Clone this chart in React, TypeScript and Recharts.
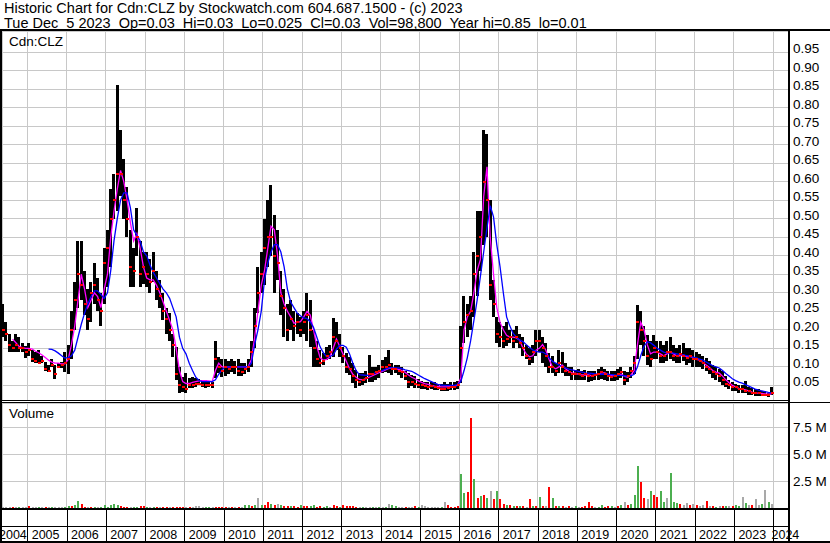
import React from "react";
import {
  ComposedChart,
  Bar,
  Line,
  Scatter,
  XAxis,
  YAxis,
  CartesianGrid,
  Cell,
} from "recharts";

// monthly readings, May 2004 .. Dec 2023 (one value per month)
const START_YEAR = 2004;
const START_MONTH = 4; // May

const highs = [
  0.27, 0.22, 0.19, 0.17, 0.19, 0.18, 0.165, 0.155,
  0.165, 0.145, 0.14, 0.145, 0.13, 0.113, 0.105, 0.12, 0.105, 0.11, 0.113, 0.14,
  0.16, 0.25, 0.33, 0.44, 0.44, 0.36, 0.31, 0.33, 0.38, 0.34, 0.3, 0.42,
  0.47, 0.58, 0.62, 0.86, 0.74, 0.66, 0.585, 0.47, 0.42, 0.53, 0.44, 0.41,
  0.41, 0.39, 0.41, 0.36, 0.335, 0.3, 0.26, 0.245, 0.19, 0.154, 0.1, 0.072,
  0.083, 0.07, 0.072, 0.07, 0.068, 0.065, 0.065, 0.062, 0.06, 0.17, 0.127, 0.12,
  0.12, 0.115, 0.12, 0.115, 0.12, 0.11, 0.11, 0.12, 0.17, 0.26, 0.37, 0.41,
  0.5, 0.55, 0.59, 0.51, 0.47, 0.36, 0.31, 0.27, 0.28, 0.25, 0.245, 0.235,
  0.25, 0.3, 0.28, 0.2, 0.17, 0.146, 0.137, 0.154, 0.16, 0.232, 0.22, 0.19,
  0.154, 0.137, 0.127, 0.11, 0.092, 0.083, 0.083, 0.09, 0.132, 0.1, 0.1, 0.105,
  0.118, 0.127, 0.146, 0.11, 0.105, 0.105, 0.1, 0.09, 0.083, 0.078, 0.075, 0.068,
  0.062, 0.06, 0.058, 0.06, 0.058, 0.055, 0.055, 0.058, 0.055, 0.06, 0.058, 0.062,
  0.21, 0.29, 0.27, 0.29, 0.41, 0.52, 0.52, 0.74, 0.73, 0.55, 0.335, 0.235,
  0.22, 0.21, 0.22, 0.2, 0.2, 0.21, 0.19, 0.18, 0.16, 0.15, 0.16, 0.2,
  0.2, 0.18, 0.165, 0.137, 0.13, 0.11, 0.146, 0.14, 0.11, 0.1, 0.1, 0.092,
  0.095, 0.09, 0.092, 0.09, 0.088, 0.09, 0.095, 0.1, 0.095, 0.09, 0.088, 0.09,
  0.095, 0.1, 0.09, 0.085, 0.1, 0.13, 0.267, 0.25, 0.21, 0.185, 0.17, 0.185,
  0.17, 0.17, 0.16, 0.17, 0.18, 0.16, 0.15, 0.16, 0.165, 0.15, 0.15, 0.145,
  0.14, 0.135, 0.13, 0.125, 0.115, 0.105, 0.1, 0.095, 0.09, 0.075, 0.065, 0.06,
  0.055, 0.052, 0.05, 0.062, 0.045, 0.042, 0.04, 0.04, 0.035, 0.035, 0.03, 0.045,
];

const lows = [
  0.18, 0.17, 0.14, 0.14, 0.14, 0.14, 0.14, 0.125,
  0.13, 0.113, 0.11, 0.11, 0.11, 0.09, 0.087, 0.1, 0.067, 0.097, 0.097, 0.087,
  0.08, 0.12, 0.2, 0.26, 0.28, 0.24, 0.2, 0.22, 0.27, 0.25, 0.21, 0.27,
  0.315, 0.37, 0.5, 0.52, 0.56, 0.5, 0.45, 0.315, 0.315, 0.4, 0.315, 0.325,
  0.315, 0.3, 0.33, 0.28, 0.26, 0.226, 0.19, 0.17, 0.127, 0.065, 0.03, 0.032,
  0.03, 0.043, 0.043, 0.045, 0.05, 0.045, 0.043, 0.045, 0.043, 0.07, 0.083, 0.072,
  0.075, 0.08, 0.085, 0.08, 0.075, 0.075, 0.08, 0.085, 0.1, 0.15, 0.245, 0.3,
  0.32, 0.37, 0.4, 0.3, 0.335, 0.24, 0.18, 0.17, 0.2, 0.17, 0.19, 0.18,
  0.19, 0.17, 0.154, 0.1, 0.1, 0.1, 0.105, 0.118, 0.12, 0.127, 0.146, 0.127,
  0.11, 0.083, 0.078, 0.056, 0.043, 0.047, 0.052, 0.056, 0.06, 0.06, 0.065, 0.07,
  0.083, 0.086, 0.083, 0.078, 0.083, 0.078, 0.07, 0.065, 0.043, 0.047, 0.043, 0.043,
  0.04, 0.04, 0.038, 0.04, 0.038, 0.037, 0.035, 0.035, 0.035, 0.038, 0.037, 0.04,
  0.056, 0.164, 0.18, 0.2, 0.235, 0.29, 0.36, 0.43, 0.45, 0.28, 0.235, 0.164,
  0.154, 0.15, 0.155, 0.165, 0.15, 0.165, 0.15, 0.13, 0.12, 0.105, 0.11, 0.13,
  0.14, 0.11, 0.1, 0.083, 0.083, 0.075, 0.083, 0.083, 0.075, 0.075, 0.065, 0.065,
  0.065, 0.065, 0.065, 0.06, 0.062, 0.065, 0.065, 0.068, 0.065, 0.062, 0.062, 0.062,
  0.065, 0.07, 0.05, 0.06, 0.07, 0.08, 0.12, 0.16, 0.13, 0.105, 0.1, 0.12,
  0.12, 0.11, 0.11, 0.115, 0.12, 0.115, 0.11, 0.11, 0.115, 0.105, 0.11, 0.1,
  0.1, 0.1, 0.095, 0.09, 0.08, 0.07, 0.065, 0.06, 0.05, 0.045, 0.04, 0.035,
  0.035, 0.03, 0.03, 0.03, 0.025, 0.025, 0.022, 0.02, 0.02, 0.02, 0.018, 0.025,
];

const closes = [
  0.2, 0.19, 0.16, 0.15, 0.16, 0.15, 0.15, 0.14,
  0.145, 0.12, 0.115, 0.11, 0.115, 0.095, 0.09, 0.105, 0.08, 0.1, 0.105, 0.11,
  0.12, 0.2, 0.28, 0.35, 0.32, 0.27, 0.23, 0.3, 0.32, 0.28, 0.25, 0.38,
  0.42, 0.5, 0.55, 0.62, 0.62, 0.55, 0.5, 0.37, 0.36, 0.45, 0.35, 0.37,
  0.35, 0.33, 0.36, 0.31, 0.29, 0.25, 0.23, 0.2, 0.16, 0.08, 0.05, 0.045,
  0.04, 0.05, 0.05, 0.055, 0.055, 0.05, 0.05, 0.05, 0.05, 0.12, 0.1, 0.09,
  0.1, 0.095, 0.1, 0.1, 0.09, 0.085, 0.095, 0.1, 0.14, 0.21, 0.3, 0.35,
  0.42, 0.45, 0.45, 0.4, 0.38, 0.29, 0.26, 0.2, 0.23, 0.21, 0.22, 0.2,
  0.22, 0.24, 0.2, 0.15, 0.12, 0.11, 0.115, 0.13, 0.14, 0.18, 0.17, 0.15,
  0.13, 0.1, 0.095, 0.075, 0.065, 0.06, 0.065, 0.07, 0.08, 0.08, 0.085, 0.09,
  0.1, 0.1, 0.105, 0.095, 0.095, 0.09, 0.085, 0.075, 0.06, 0.06, 0.055, 0.05,
  0.05, 0.048, 0.045, 0.048, 0.045, 0.042, 0.04, 0.04, 0.042, 0.045, 0.045, 0.05,
  0.15, 0.22, 0.24, 0.25, 0.35, 0.4, 0.45, 0.6, 0.55, 0.32, 0.27, 0.19,
  0.18, 0.17, 0.175, 0.18, 0.17, 0.18, 0.165, 0.15, 0.13, 0.12, 0.14, 0.17,
  0.17, 0.15, 0.13, 0.1, 0.1, 0.09, 0.11, 0.1, 0.09, 0.085, 0.08, 0.08,
  0.08, 0.075, 0.08, 0.075, 0.075, 0.078, 0.08, 0.085, 0.08, 0.075, 0.072, 0.075,
  0.08, 0.085, 0.065, 0.075, 0.09, 0.11, 0.22, 0.2, 0.17, 0.13, 0.12, 0.15,
  0.14, 0.13, 0.13, 0.14, 0.14, 0.13, 0.13, 0.135, 0.13, 0.125, 0.13, 0.12,
  0.12, 0.115, 0.11, 0.1, 0.095, 0.085, 0.08, 0.075, 0.065, 0.055, 0.05, 0.045,
  0.045, 0.04, 0.04, 0.035, 0.035, 0.03, 0.03, 0.03, 0.025, 0.025, 0.025, 0.03,
];

// short moving average (magenta)
const maShort = [
  null, null, null, 0.175, 0.165, 0.155, 0.152, 0.15,
  0.15, 0.148, 0.142, 0.138, 0.132, 0.125, 0.118, 0.113, 0.11, 0.11, 0.108, 0.108,
  0.12, 0.16, 0.21, 0.28, 0.35, 0.31, 0.26, 0.28, 0.3, 0.29, 0.26, 0.31,
  0.35, 0.45, 0.52, 0.58, 0.63, 0.6, 0.55, 0.49, 0.44, 0.46, 0.42, 0.37,
  0.34, 0.335, 0.335, 0.32, 0.3, 0.275, 0.25, 0.225, 0.2, 0.15, 0.09, 0.06,
  0.055, 0.055, 0.058, 0.06, 0.062, 0.063, 0.063, 0.062, 0.06, 0.09, 0.11, 0.1,
  0.1, 0.1, 0.1, 0.1, 0.1, 0.1, 0.1, 0.1, 0.12, 0.18, 0.25, 0.32,
  0.36, 0.42, 0.48, 0.47, 0.4, 0.3, 0.27, 0.25, 0.235, 0.218, 0.22, 0.222,
  0.235, 0.25, 0.24, 0.2, 0.155, 0.125, 0.118, 0.12, 0.127, 0.15, 0.175, 0.155,
  0.135, 0.115, 0.095, 0.08, 0.072, 0.066, 0.065, 0.068, 0.072, 0.076, 0.08, 0.084,
  0.088, 0.092, 0.096, 0.097, 0.095, 0.093, 0.09, 0.085, 0.078, 0.072, 0.068, 0.062,
  0.058, 0.055, 0.053, 0.05, 0.048, 0.047, 0.046, 0.046, 0.046, 0.046, 0.048, 0.05,
  0.07, 0.2, 0.235, 0.25, 0.3, 0.36, 0.39, 0.56, 0.64, 0.45, 0.35, 0.26,
  0.22, 0.2, 0.185, 0.18, 0.18, 0.178, 0.172, 0.15, 0.135, 0.127, 0.13, 0.145,
  0.15, 0.16, 0.145, 0.12, 0.1, 0.095, 0.1, 0.105, 0.095, 0.088, 0.083, 0.083,
  0.08, 0.078, 0.078, 0.078, 0.076, 0.078, 0.08, 0.084, 0.084, 0.08, 0.077, 0.076,
  0.077, 0.08, 0.075, 0.072, 0.078, 0.09, 0.16, 0.22, 0.2, 0.16, 0.135, 0.14,
  0.14, 0.135, 0.13, 0.135, 0.14, 0.135, 0.13, 0.13, 0.132, 0.128, 0.128, 0.125,
  0.12, 0.118, 0.112, 0.105, 0.098, 0.09, 0.086, 0.083, 0.075, 0.065, 0.057, 0.05,
  0.046, 0.042, 0.04, 0.038, 0.035, 0.032, 0.03, 0.029, 0.028, 0.027, 0.026, 0.027,
];

// long moving average (blue)
const maLong = [
  null, null, null, null, null, null, null, null,
  null, null, null, null, null, null, 0.148, 0.147, 0.143, 0.137, 0.13, 0.124,
  0.125, 0.13, 0.145, 0.18, 0.215, 0.245, 0.27, 0.29, 0.305, 0.305, 0.295, 0.285,
  0.3, 0.36, 0.44, 0.5, 0.55, 0.57, 0.57, 0.53, 0.47, 0.455, 0.44, 0.41,
  0.4, 0.375, 0.355, 0.34, 0.325, 0.31, 0.3, 0.285, 0.26, 0.235, 0.18, 0.15,
  0.135, 0.11, 0.09, 0.072, 0.063, 0.06, 0.06, 0.06, 0.06, 0.065, 0.08, 0.092,
  0.1, 0.1, 0.1, 0.1, 0.1, 0.1, 0.1, 0.1, 0.11, 0.16, 0.2, 0.25,
  0.334, 0.38, 0.41, 0.43, 0.43, 0.41, 0.37, 0.31, 0.275, 0.26, 0.245, 0.238,
  0.232, 0.23, 0.222, 0.206, 0.18, 0.154, 0.138, 0.127, 0.128, 0.132, 0.148, 0.158,
  0.158, 0.153, 0.135, 0.11, 0.09, 0.079, 0.078, 0.077, 0.078, 0.08, 0.085, 0.088,
  0.09, 0.094, 0.097, 0.097, 0.097, 0.097, 0.095, 0.092, 0.09, 0.088, 0.083, 0.078,
  0.073, 0.068, 0.064, 0.06, 0.056, 0.053, 0.051, 0.05, 0.05, 0.05, 0.05, 0.052,
  0.06, 0.09, 0.125, 0.17, 0.225, 0.28, 0.345, 0.41, 0.475, 0.535, 0.505, 0.43,
  0.37, 0.3, 0.235, 0.21, 0.19, 0.18, 0.172, 0.168, 0.16, 0.152, 0.146, 0.142,
  0.14, 0.14, 0.135, 0.125, 0.115, 0.11, 0.105, 0.1, 0.097, 0.094, 0.092, 0.09,
  0.088, 0.086, 0.084, 0.083, 0.082, 0.081, 0.08, 0.08, 0.08, 0.08, 0.079, 0.078,
  0.077, 0.077, 0.076, 0.075, 0.076, 0.08, 0.1, 0.13, 0.155, 0.168, 0.165, 0.158,
  0.15, 0.145, 0.14, 0.138, 0.138, 0.137, 0.135, 0.133, 0.132, 0.13, 0.128, 0.126,
  0.124, 0.121, 0.118, 0.113, 0.108, 0.103, 0.1, 0.097, 0.09, 0.082, 0.075, 0.068,
  0.063, 0.059, 0.056, 0.052, 0.048, 0.044, 0.04, 0.037, 0.035, 0.033, 0.031, 0.03,
];

// volume in millions of shares
const volumes = [
  0.04, 0.05, 0.03, 0.05, 0.03, 0.02, 0.03, 0.04,
  0.15, 0.02, 0.03, 0.05, 0.02, 0.02, 0.03, 0.05, 0.03, 0.02, 0.05, 0.06,
  0.2, 0.2, 0.25, 0.65, 0.35, 0.1, 0.05, 0.1, 0.05, 0.08, 0.1, 0.25,
  0.1, 0.25, 0.35, 0.3, 0.15, 0.1, 0.1, 0.05, 0.1, 0.1, 0.2, 0.15,
  0.05, 0.04, 0.06, 0.05, 0.04, 0.06, 0.05, 0.04, 0.06, 0.08, 0.06, 0.1,
  0.08, 0.1, 0.05, 0.2, 0.15, 0.04, 0.1, 0.06, 0.04, 0.1, 0.05, 0.06,
  0.05, 0.04, 0.05, 0.03, 0.06, 0.04, 0.3, 0.25, 0.2, 0.25, 0.9, 0.3,
  0.3, 0.6, 0.35, 0.3, 0.35, 0.3, 0.2, 0.15, 0.2, 0.15, 0.1, 0.25,
  0.15, 0.2, 0.15, 0.3, 0.1, 0.15, 0.1, 0.15, 0.1, 0.3, 0.2, 0.1,
  0.25, 0.2, 0.15, 0.15, 0.08, 0.06, 0.08, 0.05, 0.1, 0.08, 0.06, 0.1,
  0.05, 0.1, 0.4, 0.25, 0.15, 0.1, 0.05, 0.08, 0.05, 0.05, 0.2, 0.1,
  0.25, 0.2, 0.05, 0.05, 0.05, 0.1, 0.05, 0.55, 0.25, 0.05, 0.1, 0.2,
  3.2, 1.4, 1.45, 8.4, 2.75, 0.9, 1.1, 1.2, 0.9, 1.6, 0.8, 1.55,
  0.8, 0.4, 0.3, 0.25, 0.2, 0.15, 0.2, 0.15, 0.1, 0.8, 0.2, 0.15,
  1.05, 0.2, 0.15, 1.95, 0.95, 0.15, 0.2, 0.15, 0.1, 0.15, 0.1, 0.2,
  0.1, 0.1, 0.15, 0.55, 0.2, 0.1, 0.1, 0.3, 0.1, 0.2, 0.15, 0.1,
  0.2, 0.25, 0.55, 0.3, 0.4, 1.2, 3.9, 2.4, 0.9, 0.8, 1.6, 1.2,
  1.05, 1.6, 0.6, 0.95, 3.3, 0.6, 0.5, 0.4, 0.3, 0.45, 0.3, 0.35,
  0.3, 0.2, 0.25, 0.7, 0.2, 0.15, 0.1, 0.15, 0.15, 0.2, 0.15, 0.2,
  0.25, 0.2, 1.05, 0.5, 0.3, 0.25, 0.8, 0.3, 0.4, 1.7, 0.6, 0.4,
];

// g = up, r = down, n = unchanged (one letter per month, one string per year)
const volumeDirs = [
  "nnnrngnn",
  "rnngnrngnnng",
  "grggrrnrgngg",
  "ggggrrrnggrr",
  "gngrnrrnrrrr",
  "nrnnnnggnrrr",
  "rnrnrnggrgng",
  "rrgrngrrgrrg",
  "rrggrrggnrrg",
  "rrrrrngnngng",
  "ngnggnnrnnrg",
  "nnnnnngnrrrr",
  "ggrrgrgrgnrg",
  "rrgrgrgrnrgr",
  "grnrgrgrnrng",
  "nrrrrnggrrgn",
  "rgnrgggrrngr",
  "rggngggrnnrn",
  "rnnrnrgnrgnr",
  "ggngnrnngngn",
].join("");

const yearTicks = [
  2005, 2006, 2007, 2008, 2009, 2010, 2011, 2012, 2013, 2014,
  2015, 2016, 2017, 2018, 2019, 2020, 2021, 2022, 2023, 2024,
];
const yearLabels = [2004, ...yearTicks];
const priceTicks = [
  0.05, 0.1, 0.15, 0.2, 0.25, 0.3, 0.35, 0.4, 0.45, 0.5,
  0.55, 0.6, 0.65, 0.7, 0.75, 0.8, 0.85, 0.9, 0.95,
];
const volumeTicks = [2.5, 5, 7.5];

const X_MIN = 2004.3556;
const X_MAX = 2024.376;
const PLOT_L = 2;
const PLOT_R = 788;
const FONT = '"Liberation Sans", Arial, sans-serif';
const DIR_COLOR: Record<string, string> = {
  g: "#4caf50",
  r: "#ff0000",
  n: "#a9a9a9",
};

const rows = highs.map((hi, i) => ({
  t: START_YEAR + (START_MONTH + i + 0.5) / 12,
  hi,
  lo: lows[i],
  cl: closes[i],
  ma1: maShort[i],
  ma2: maLong[i],
  vol: volumes[i],
  dir: volumeDirs[i],
}));

const xOf = (t: number) =>
  PLOT_L + ((t - X_MIN) / (X_MAX - X_MIN)) * (PLOT_R - PLOT_L);

const PriceTick = (p: any) => (
  <text x={p.x} y={p.y + 1} fontSize={13.5} fontFamily={FONT} fill="#000" textAnchor="start">
    {p.payload.value.toFixed(2)}
  </text>
);

const VolumeTick = (p: any) => (
  <text x={p.x} y={p.y + 4.5} fontSize={13.5} fontFamily={FONT} fill="#000" textAnchor="start">
    {p.payload.value.toFixed(1) + " M"}
  </text>
);

const CloseMark = (p: any) => (
  <rect x={Math.round(p.cx) - 1} y={Math.round(p.cy) - 1} width={3} height={2} fill="#ff0000" />
);

export default function App() {
  return (
    <div
      style={{
        position: "absolute",
        left: 0,
        top: 0,
        width: 830,
        height: 543,
        background: "#fff",
        overflow: "hidden",
        fontFamily: FONT,
      }}
    >
      <style>{`.recharts-cartesian-grid line{shape-rendering:crispEdges}
.recharts-bar-rectangle path{shape-rendering:crispEdges}`}</style>

      <div style={{ position: "absolute", left: 0, top: 31 }}>
        <ComposedChart
          width={830}
          height={370}
          data={rows}
          margin={{ top: 0, right: 0, bottom: 0, left: PLOT_L }}
        >
          <CartesianGrid stroke="#c8c8c8" />
          <XAxis
            type="number"
            dataKey="t"
            domain={[X_MIN, X_MAX]}
            ticks={yearTicks}
            allowDataOverflow
            hide
          />
          <YAxis
            orientation="right"
            width={42}
            domain={[0.0078, 1.0068]}
            ticks={priceTicks}
            interval={0}
            allowDataOverflow
            axisLine={false}
            tickLine={false}
            tickSize={0}
            tickMargin={5}
            tick={PriceTick}
          />
          <Bar
            dataKey={(d: any) => [d.lo, d.hi]}
            fill="#000"
            barSize={3}
            isAnimationActive={false}
          />
          <Scatter dataKey="cl" shape={CloseMark} isAnimationActive={false} />
          <Line
            dataKey="ma1"
            stroke="#ff00ff"
            strokeWidth={1.3}
            dot={false}
            isAnimationActive={false}
          />
          <Line
            dataKey="ma2"
            stroke="#0000ff"
            strokeWidth={1.3}
            dot={false}
            isAnimationActive={false}
          />
        </ComposedChart>
      </div>

      <div style={{ position: "absolute", left: 0, top: 403 }}>
        <ComposedChart
          width={830}
          height={105}
          data={rows}
          margin={{ top: 0, right: 0, bottom: 0, left: PLOT_L }}
        >
          <CartesianGrid stroke="#c8c8c8" />
          <XAxis
            type="number"
            dataKey="t"
            domain={[X_MIN, X_MAX]}
            ticks={yearTicks}
            allowDataOverflow
            hide
          />
          <YAxis
            orientation="right"
            width={42}
            domain={[0, 9.8]}
            ticks={volumeTicks}
            interval={0}
            allowDataOverflow
            axisLine={false}
            tickLine={false}
            tickSize={0}
            tickMargin={5}
            tick={VolumeTick}
          />
          <Bar dataKey="vol" barSize={2} minPointSize={1} isAnimationActive={false}>
            {rows.map((r, i) => (
              <Cell key={i} fill={DIR_COLOR[r.dir]} />
            ))}
          </Bar>
        </ComposedChart>
      </div>

      <svg
        width={830}
        height={543}
        style={{ position: "absolute", left: 0, top: 0, pointerEvents: "none" }}
      >
        <text x={4} y={13} fontSize={14.5} fontFamily={FONT} fill="#000">
          Historic Chart for Cdn:CLZ by Stockwatch.com 604.687.1500 - (c) 2023
        </text>
        <text x={4} y={28} fontSize={14.5} fontFamily={FONT} fill="#000" style={{ whiteSpace: "pre" }}>
          {"Tue Dec  5 2023  Op=0.03  Hi=0.03  Lo=0.025  Cl=0.03  Vol=98,800  Year hi=0.85  lo=0.01"}
        </text>
        <text x={9} y={46} fontSize={13.5} fontFamily={FONT} fill="#000">
          Cdn:CLZ
        </text>
        <text x={9} y={418} fontSize={13.5} fontFamily={FONT} fill="#000">
          Volume
        </text>

        {yearLabels.map((y) => (
          <text
            key={y}
            x={Math.max(-1, Math.min(771.5, xOf(y) + 4.4))}
            y={539}
            fontSize={12.5}
            fontFamily={FONT}
            fill="#000"
          >
            {y}
          </text>
        ))}
        {yearTicks.map((y) => (
          <rect key={y} x={Math.round(xOf(y))} y={510} width={1} height={31} fill="#000" />
        ))}

        <g fill="#000">
          <rect x={0} y={29} width={830} height={2} />
          <rect x={0} y={29} width={2} height={514} />
          <rect x={788} y={29} width={2} height={514} />
          <rect x={0} y={400} width={790} height={1} />
          <rect x={0} y={402} width={830} height={1} />
          <rect x={0} y={508} width={790} height={2} />
          <rect x={0} y={526} width={790} height={1} />
          <rect x={0} y={541} width={830} height={2} />
        </g>
      </svg>
    </div>
  );
}
